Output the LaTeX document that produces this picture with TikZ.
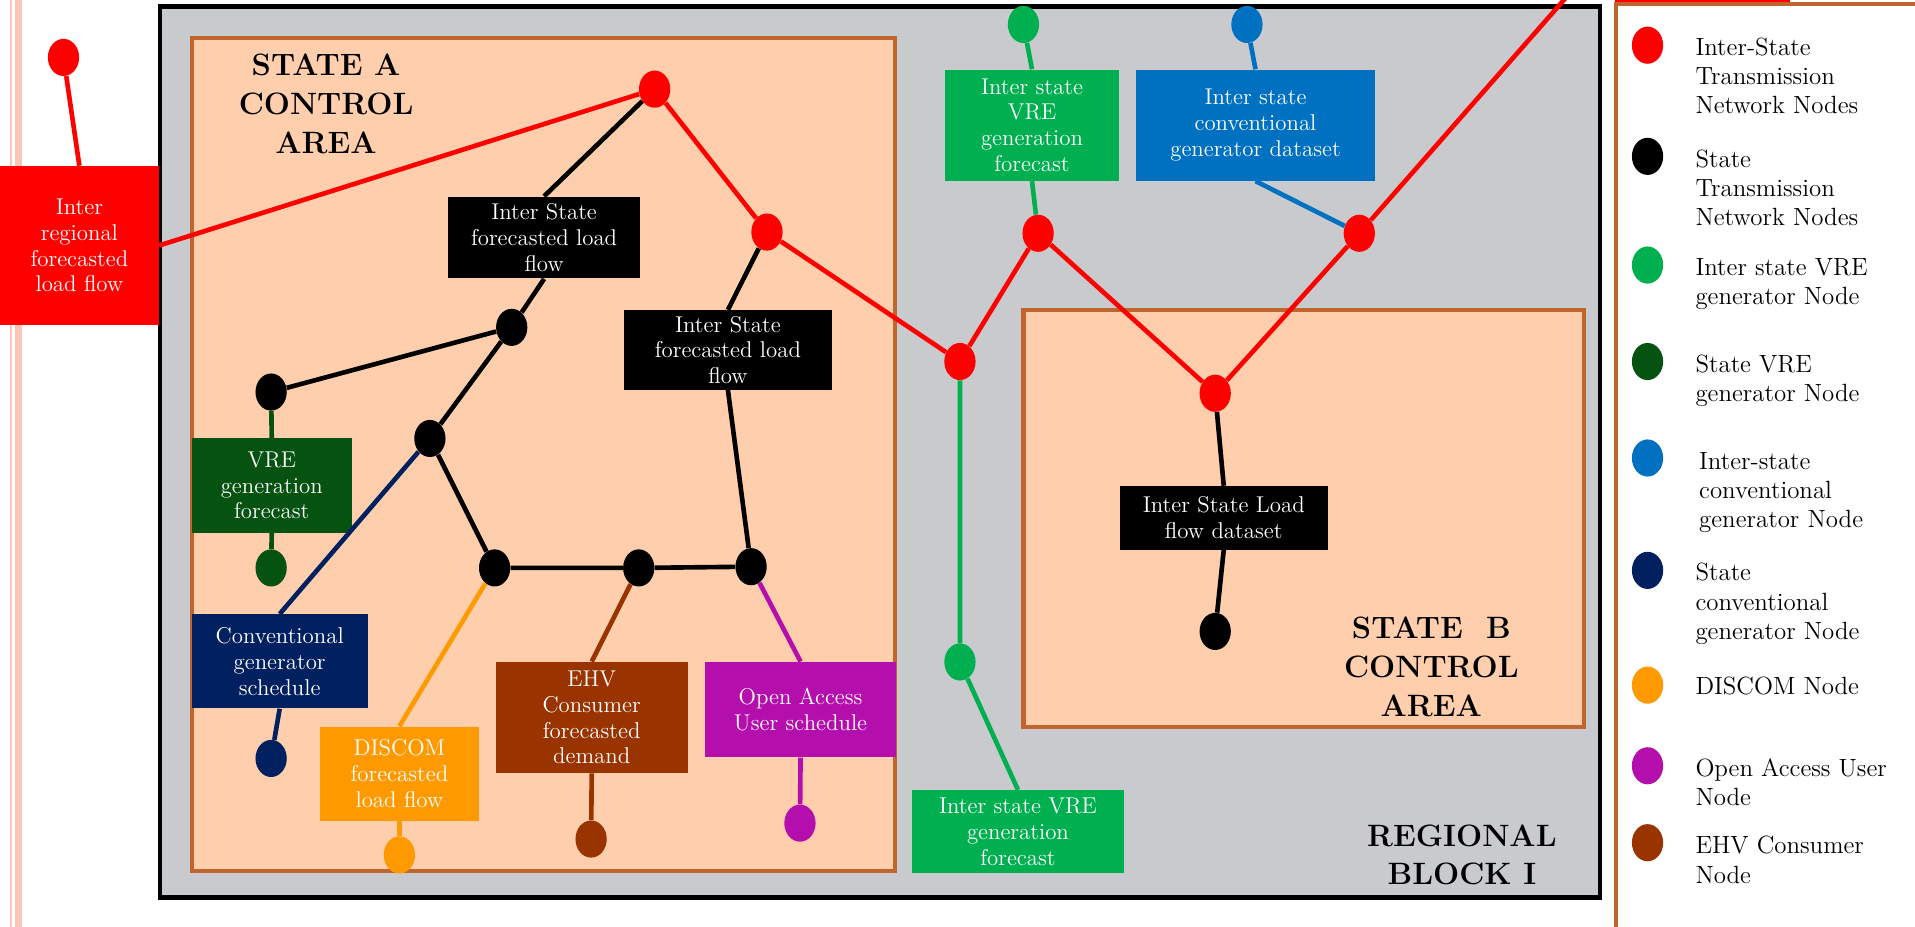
\documentclass[tikz,border=0pt]{standalone}
\usepackage{tikz}
\usetikzlibrary{shapes.geometric}
\definecolor{blockgrey}{HTML}{C9CACE}
\definecolor{areafill}{HTML}{FFCFAD}
\definecolor{areaedge}{HTML}{C0652D}
\definecolor{isgreen}{HTML}{00B050}
\definecolor{isblue}{HTML}{0070C0}
\definecolor{vregreen}{HTML}{055211}
\definecolor{convnavy}{HTML}{002060}
\definecolor{discomorange}{HTML}{FF9900}
\definecolor{ehvbrown}{HTML}{993300}
\definecolor{oamagenta}{HTML}{B40FAC}
\definecolor{slidepink}{HTML}{FBC6B5}

\begin{document}
\begin{tikzpicture}[
        x=0.025cm, y=-0.025cm,
        bus/.style={ellipse, fill=#1, minimum width=0.64cm, minimum height=0.76cm, inner sep=0pt},
        databox/.style={rectangle, fill=#1, text=white, align=center, inner sep=2pt,
            font=\fontsize{13.3}{15}\selectfont},
        wire/.style={draw=#1, line width=2.7pt},
        areatitle/.style={align=center, font=\fontsize{18}{22.5}\selectfont\bfseries},
        keytext/.style={anchor=west, align=left, inner sep=0pt, font=\fontsize{14.5}{17}\selectfont}
    ]
        \useasboundingbox (0, 0) rectangle (1568, 759);
        % slide decoration
        \fill[slidepink] (8, 0) rectangle (10, 759);
        \fill[slidepink] (12, 0) rectangle (18, 759);
        \fill[red] (1322, 0) rectangle (1466, 2.5);
        % regional block and control areas
        \draw[line width=2.8pt, fill=blockgrey] (131, 5) rectangle (1310, 735);
        \draw[line width=2.4pt, draw=areaedge, fill=areafill] (157, 31) rectangle (733, 713);
        \draw[line width=2.4pt, draw=areaedge, fill=areafill] (838, 254) rectangle (1297, 595);
        \node[areatitle] (titleA) at (267, 85) {STATE A\\CONTROL\\AREA};
        \node[areatitle] (titleB) at (1172, 546) {STATE\ \ B\\CONTROL\\AREA};
        \node[areatitle] (titleblock) at (1197, 700) {REGIONAL\\BLOCK I};

        % inter-state transmission nodes
        \node[bus=red] (isn0) at (52, 47) {};
        \node[bus=red] (isn1) at (536, 73) {};
        \node[bus=red] (isn2) at (628, 190) {};
        \node[bus=red] (isn3) at (786, 296) {};
        \node[bus=red] (isn4) at (850, 191) {};
        \node[bus=red] (isn5) at (1113, 191) {};
        \node[bus=red] (isn6) at (995, 322) {};
        \coordinate (isnexit) at (1284, -4);
        % state transmission nodes
        \node[bus=black] (stn1) at (419, 268) {};
        \node[bus=black] (stn2) at (222, 321) {};
        \node[bus=black] (stn3) at (352, 359) {};
        \node[bus=black] (stn4) at (405, 465) {};
        \node[bus=black] (stn5) at (523, 465) {};
        \node[bus=black] (stn6) at (615, 464) {};
        \node[bus=black] (stn7) at (995, 517) {};
        % generator and consumer nodes
        \node[bus=isgreen] (isvre1) at (838, 20) {};
        \node[bus=isgreen] (isvre2) at (786, 542) {};
        \node[bus=isblue] (isconv) at (1021, 20) {};
        \node[bus=vregreen] (svre) at (222, 465) {};
        \node[bus=convnavy] (sconv) at (222, 621) {};
        \node[bus=discomorange] (discom) at (327, 700) {};
        \node[bus=ehvbrown] (ehv) at (484, 687) {};
        \node[bus=oamagenta] (oauser) at (655, 674) {};

        % data boxes
        \node[databox=red, minimum width=3.25cm, minimum height=3.25cm] (irflow) at (65, 201)
            {Inter\\regional\\forecasted\\load flow};
        \node[databox=black, minimum width=3.925cm, minimum height=1.675cm] (isflowA) at (445.5, 194.5)
            {Inter State\\forecasted load\\flow};
        \node[databox=black, minimum width=4.25cm, minimum height=1.625cm] (isflowB) at (596, 286.5)
            {Inter State\\forecasted load\\flow};
        \node[databox=black, minimum width=4.25cm, minimum height=1.3cm] (isdataset) at (1002, 424)
            {Inter State Load\\flow dataset};
        \node[databox=isgreen, minimum width=3.55cm, minimum height=2.275cm] (isvrebox1) at (845, 102.5)
            {Inter state\\VRE\\generation\\forecast};
        \node[databox=isblue, minimum width=4.9cm, minimum height=2.275cm] (isconvbox) at (1028, 102.5)
            {Inter state\\conventional\\generator dataset};
        \node[databox=isgreen, minimum width=4.325cm, minimum height=1.7cm] (isvrebox2) at (833.5, 681)
            {Inter state VRE\\generation\\forecast};
        \node[databox=vregreen, minimum width=3.275cm, minimum height=1.925cm] (svrebox) at (222.5, 397.5)
            {VRE\\generation\\forecast};
        \node[databox=convnavy, minimum width=3.6cm, minimum height=1.925cm] (sconvbox) at (229, 541.5)
            {Conventional\\generator\\schedule};
        \node[databox=discomorange, minimum width=3.25cm, minimum height=1.925cm] (discombox) at (327, 633.5)
            {DISCOM\\forecasted\\load flow};
        \node[databox=ehvbrown, minimum width=3.925cm, minimum height=2.275cm] (ehvbox) at (484.5, 587.5)
            {EHV\\Consumer\\forecasted\\demand};
        \node[databox=oamagenta, minimum width=3.925cm, minimum height=1.95cm] (oabox) at (655.5, 581)
            {Open Access\\User schedule};

        % inter-state network
        \draw[wire=red] (isn0) -- (irflow.north);
        \draw[wire=red] (irflow.east) -- (isn1);
        \draw[wire=red] (isn1) -- (isn2) -- (isn3) -- (isn4) -- (isn6) -- (isn5) -- (isnexit);
        % state network
        \draw[wire=black] (isn1) -- (isflowA.north);
        \draw[wire=black] (isflowA.south) -- (stn1);
        \draw[wire=black] (isn2) -- (isflowB.north);
        \draw[wire=black] (isflowB.south) -- (stn6);
        \draw[wire=black] (stn2) -- (stn1) -- (stn3) -- (stn4) -- (stn5) -- (stn6);
        \draw[wire=black] (isn6) -- (isdataset.north);
        \draw[wire=black] (isdataset.south) -- (stn7);
        % generators and consumers
        \draw[wire=isgreen] (isvre1) -- (isvrebox1.north);
        \draw[wire=isgreen] (isvrebox1.south) -- (isn4);
        \draw[wire=isgreen] (isn3) -- (isvre2) -- (isvrebox2.north);
        \draw[wire=isblue] (isconv) -- (isconvbox.north);
        \draw[wire=isblue] (isconvbox.south) -- (isn5);
        \draw[wire=vregreen] (stn2) -- (svrebox.north);
        \draw[wire=vregreen] (svrebox.south) -- (svre);
        \draw[wire=convnavy] (stn3) -- (sconvbox.north);
        \draw[wire=convnavy] (sconvbox.south) -- (sconv);
        \draw[wire=discomorange] (stn4) -- (discombox.north);
        \draw[wire=discomorange] (discombox.south) -- (discom);
        \draw[wire=ehvbrown] (stn5) -- (ehvbox.north);
        \draw[wire=ehvbrown] (ehvbox.south) -- (ehv);
        \draw[wire=oamagenta] (stn6) -- (oabox.north);
        \draw[wire=oamagenta] (oabox.south) -- (oauser);

        % legend
        \draw[line width=2.4pt, draw=areaedge] (1568, 3) -- (1323, 3) -- (1323, 759);
        \node[bus=red] (keyisn) at (1349, 37) {};
        \node[keytext] (keyisntext) at (1388, 62) {Inter-State\\Transmission\\Network Nodes};
        \node[bus=black] (keystn) at (1349, 128) {};
        \node[keytext] (keystntext) at (1388, 154) {State\\Transmission\\Network Nodes};
        \node[bus=isgreen] (keyisvre) at (1349, 217) {};
        \node[keytext] (keyisvretext) at (1388, 232.5) {Inter state VRE\\generator Node};
        \node[bus=vregreen] (keysvre) at (1349, 296) {};
        \node[keytext] (keysvretext) at (1388, 312) {State VRE\\generator Node};
        \node[bus=isblue] (keyisconv) at (1349, 375) {};
        \node[keytext] (keyisconvtext) at (1391, 403.5) {Inter-state\\conventional\\generator Node};
        \node[bus=convnavy] (keysconv) at (1349, 467) {};
        \node[keytext] (keysconvtext) at (1388, 494.5) {State\\conventional\\generator Node};
        \node[bus=discomorange] (keydiscom) at (1349, 561) {};
        \node[keytext] (keydiscomtext) at (1388, 562) {DISCOM Node};
        \node[bus=oamagenta] (keyoa) at (1349, 627) {};
        \node[keytext] (keyoatext) at (1388, 640.5) {Open Access User\\Node};
        \node[bus=ehvbrown] (keyehv) at (1349, 690) {};
        \node[keytext] (keyehvtext) at (1388, 704) {EHV Consumer\\Node};
    \end{tikzpicture}
\end{document}
